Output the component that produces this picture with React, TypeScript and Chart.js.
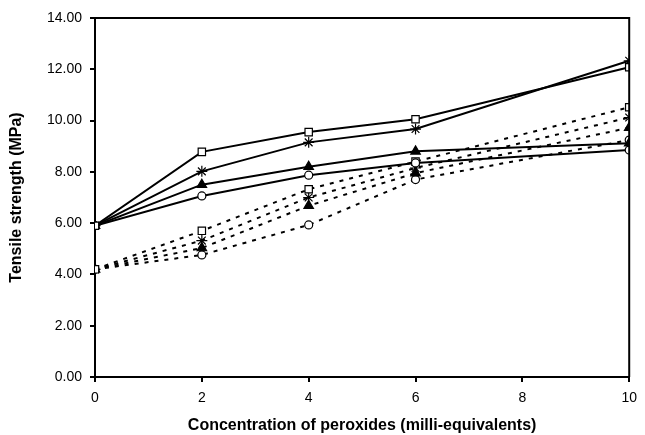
import React, { useEffect, useRef } from "react";
import { Chart, registerables } from "chart.js";

Chart.register(...registerables);

const xValues = [0, 2, 4, 6, 10];
const xTicks = [0, 2, 4, 6, 8, 10];
const yTicks = [0, 2, 4, 6, 8, 10, 12, 14];

// Solid-line series
const squareSolid = [5.9, 8.78, 9.55, 10.05, 12.08];
const starSolid = [5.9, 8.02, 9.15, 9.67, 12.33];
const triangleSolid = [5.9, 7.5, 8.2, 8.8, 9.12];
const circleSolid = [5.9, 7.06, 7.87, 8.35, 8.85];

// Dotted-line series
const squareDotted = [4.2, 5.7, 7.32, 8.4, 10.52];
const starDotted = [4.2, 5.32, 7.0, 8.15, 10.12];
const triangleDotted = [4.2, 5.03, 6.68, 7.95, 9.72];
const circleDotted = [4.2, 4.76, 5.93, 7.7, 9.24];

const xTitle = "Concentration of peroxides (milli-equivalents)";
const yTitle = "Tensile strength (MPa)";

const FONT = "'Liberation Sans', Arial, sans-serif";

function toPoints(vals: number[]) {
  return vals.map((v, i) => ({ x: xValues[i], y: v }));
}

type MarkerKind = "rect" | "star" | "triangle" | "circle";

function makeDataset(label: string, vals: number[], marker: MarkerKind, dotted: boolean) {
  const radius: Record<MarkerKind, number> = { rect: 5.2, star: 5.5, triangle: 5.5, circle: 4 };
  const filled = marker === "triangle";
  return {
    label,
    data: toPoints(vals),
    borderColor: "#000",
    backgroundColor: "#000",
    borderWidth: 2,
    borderDash: dotted ? [4, 6] : [],
    pointStyle: marker,
    pointRadius: radius[marker],
    pointBorderColor: "#000",
    pointBackgroundColor: filled ? "#000" : "#fff",
    pointBorderWidth: 1.2,
    tension: 0,
    fill: false,
  };
}

const framePlugin = {
  id: "frame",
  afterDatasetsDraw(chart: any) {
    const { ctx, chartArea } = chart;
    ctx.save();
    ctx.strokeStyle = "#000";
    ctx.lineWidth = 2;
    ctx.beginPath();
    ctx.moveTo(chartArea.left, chartArea.top);
    ctx.lineTo(chartArea.right, chartArea.top);
    ctx.lineTo(chartArea.right, chartArea.bottom);
    ctx.stroke();
    ctx.restore();
  },
};

export default function App() {
  const ref = useRef<HTMLCanvasElement | null>(null);

  useEffect(() => {
    document.body.style.margin = "0";
    const canvas = ref.current;
    if (!canvas) return;
    const chart = new Chart(canvas, {
      type: "line",
      data: {
        datasets: [
          makeDataset("Square (solid)", squareSolid, "rect", false),
          makeDataset("Star (solid)", starSolid, "star", false),
          makeDataset("Triangle (solid)", triangleSolid, "triangle", false),
          makeDataset("Circle (solid)", circleSolid, "circle", false),
          makeDataset("Square (dotted)", squareDotted, "rect", true),
          makeDataset("Star (dotted)", starDotted, "star", true),
          makeDataset("Triangle (dotted)", triangleDotted, "triangle", true),
          makeDataset("Circle (dotted)", circleDotted, "circle", true),
        ],
      },
      options: {
        responsive: false,
        animation: false,
        events: [],
        layout: { padding: { left: 0, top: 18, right: 8, bottom: 0 } },
        plugins: {
          legend: { display: false },
          tooltip: { enabled: false },
        },
        scales: {
          x: {
            type: "linear",
            min: 0,
            max: 10,
            afterFit: (s: any) => {
              s.height = 58;
            },
            afterBuildTicks: (s: any) => {
              s.ticks = xTicks.map((v) => ({ value: v }));
            },
            ticks: {
              color: "#000",
              font: { family: FONT, size: 14 },
              padding: 8,
              maxRotation: 0,
              callback: (v: any) => String(v),
            },
            grid: {
              drawOnChartArea: false,
              drawTicks: true,
              tickLength: 5,
              color: "#000",
              lineWidth: 2,
            },
            border: { display: true, color: "#000", width: 2 },
            title: {
              display: true,
              text: xTitle,
              color: "#000",
              font: { family: FONT, size: 16, weight: "bold" },
              padding: { top: 0, bottom: 0 },
            },
          },
          y: {
            type: "linear",
            min: 0,
            max: 14,
            afterFit: (s: any) => {
              s.width = 95;
            },
            afterBuildTicks: (s: any) => {
              s.ticks = yTicks.map((v) => ({ value: v }));
            },
            ticks: {
              color: "#000",
              font: { family: FONT, size: 14 },
              padding: 8,
              callback: (v: any) => Number(v).toFixed(2),
            },
            grid: {
              drawOnChartArea: false,
              drawTicks: true,
              tickLength: 5,
              color: "#000",
              lineWidth: 2,
            },
            border: { display: true, color: "#000", width: 2 },
            title: {
              display: true,
              text: yTitle,
              color: "#000",
              font: { family: FONT, size: 16, weight: "bold" },
              padding: { top: 7, bottom: 4 },
            },
          },
        },
      },
      plugins: [framePlugin],
    } as any);
    return () => chart.destroy();
  }, []);

  return (
    <div style={{ position: "absolute", left: 0, top: 0, width: 645, height: 435, background: "#fff" }}>
      <canvas ref={ref} width={645} height={435} />
    </div>
  );
}
